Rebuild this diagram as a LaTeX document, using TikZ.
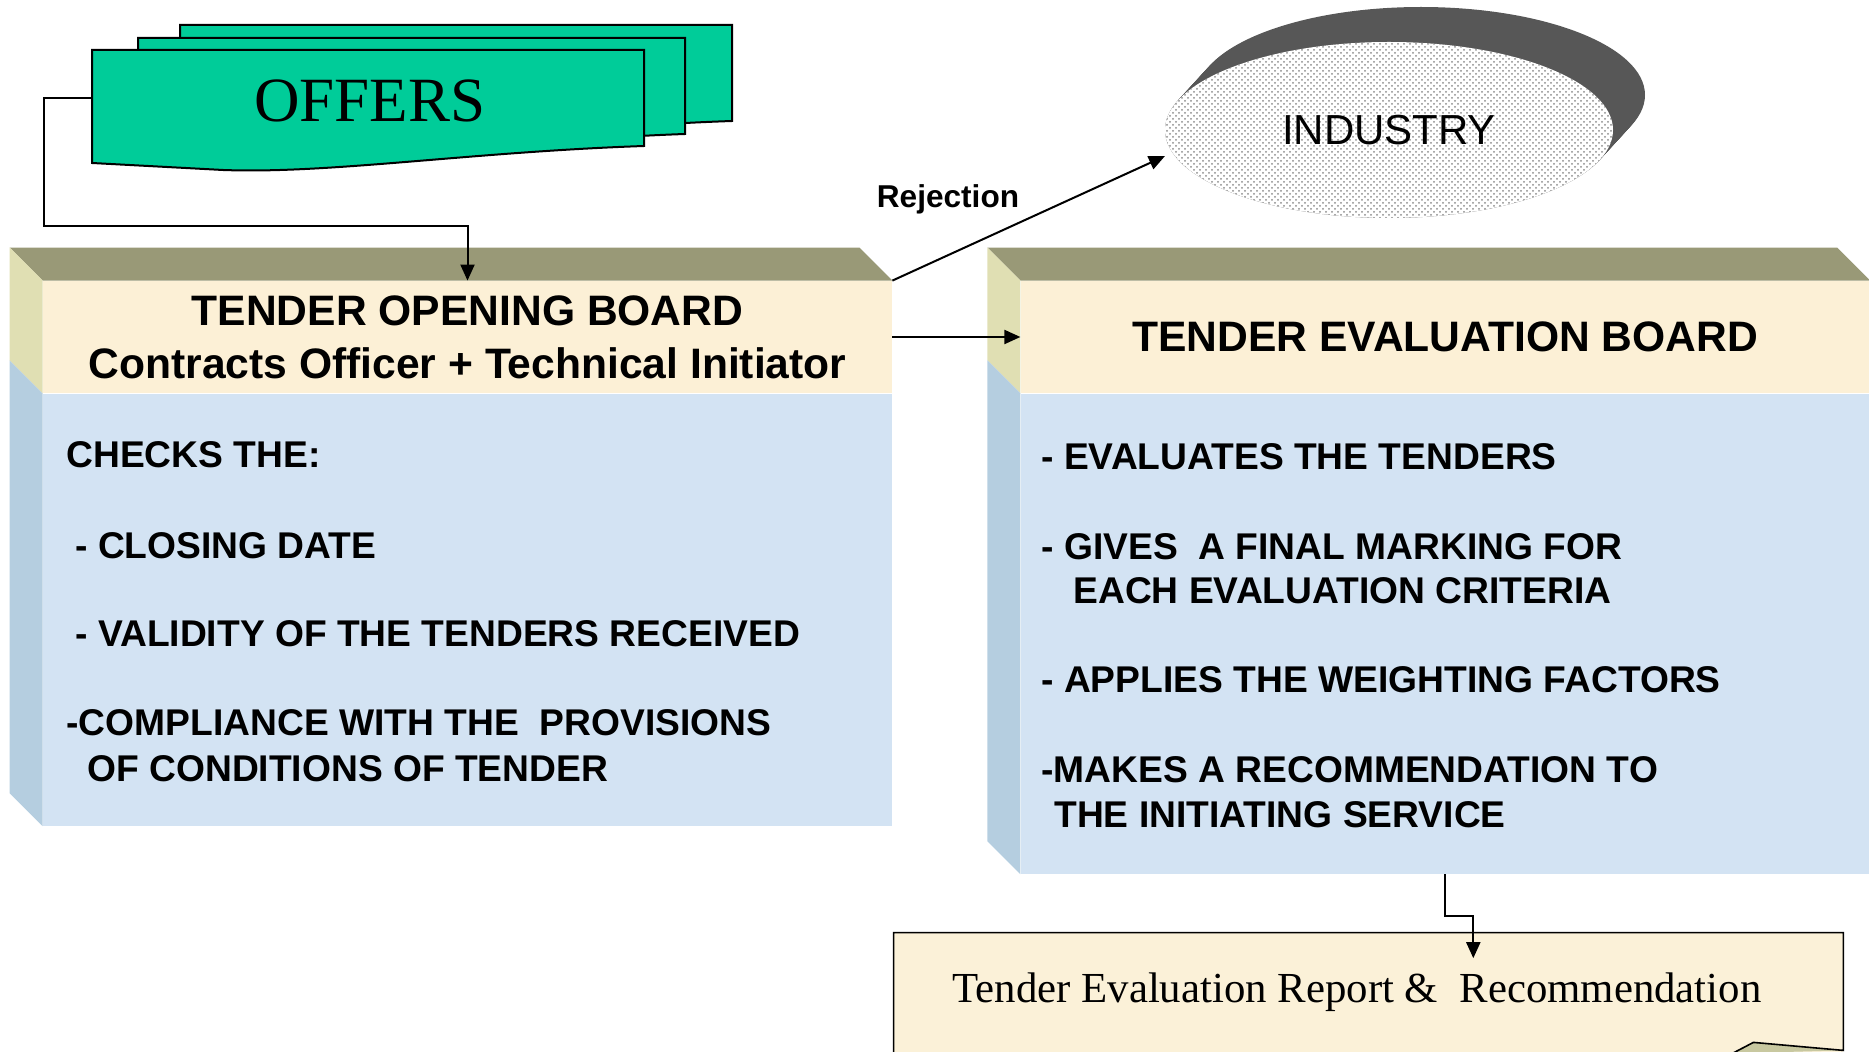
\documentclass[tikz,border=0pt]{standalone}
\usepackage{fontspec}
\setmainfont{Liberation Serif}
\setsansfont{Liberation Sans}
\usepackage{tikz}
\usetikzlibrary{arrows.meta,positioning,shapes.geometric,patterns}
\definecolor{offersGreen}{HTML}{00CC99}
\definecolor{bevelOlive}{HTML}{999977}
\definecolor{sideCream}{HTML}{E0DFB3}
\definecolor{sideBlue}{HTML}{B5CEE0}
\definecolor{headCream}{HTML}{FCF0D6}
\definecolor{bodyBlue}{HTML}{D3E3F3}
\definecolor{reportCream}{HTML}{FBF1D8}
\definecolor{foldOlive}{HTML}{C8C8A0}
\definecolor{industrySide}{HTML}{575757}
\tikzset {
	sheet/.style={draw, line width=1pt, fill=offersGreen},
	boardHead/.style={rectangle, fill=headCream, minimum width=424.5pt, minimum height=56pt, inner sep=0pt, align=center,
					font=\sffamily\bfseries\fontsize{21.3}{26.5}\selectfont},
	boardBody/.style={rectangle, fill=bodyBlue, minimum width=424.5pt, inner sep=0pt},
	bodyLine/.style={anchor=west, inner sep=0pt, text height=13.4pt, text depth=0pt,
					font=\sffamily\bfseries\fontsize{18.6}{22.4}\selectfont},
	conn/.style={draw, line width=1pt, -{Triangle[length=8pt, width=7pt]}},
	industry/.style={ellipse, minimum width=224pt, minimum height=88pt, preaction={fill=white},
					pattern=crosshatch dots, pattern color=black!45, font=\sffamily\fontsize{21}{25}\selectfont},
	rejLabel/.style={font=\sffamily\bfseries\fontsize{15.8}{19}\selectfont},
	report/.style={rectangle, fill=reportCream, minimum width=474.5pt, minimum height=60pt, inner sep=0pt},
	reportText/.style={font=\rmfamily\fontsize{21.4}{25}\selectfont}
}
\begin{document}
\begin{tikzpicture}[x=0.5pt, y=-0.5pt]
\useasboundingbox (0,0) rectangle (1869,1052);
\clip (0,0) rectangle (1869,1052);

\foreach \dx/\dy/\w in {88/-25/552, 46/-12/547, 0/0/552}
	\draw[sheet, shift={(\dx,\dy)}] (92,50) -- ++(\w,0) -- ++(0,96) .. controls (470,152) and (330,174) .. (223,170) -- (92,163) -- cycle;
\node[font=\rmfamily\fontsize{31.5}{36}\selectfont] (offers) at (370,101) {OFFERS};
\coordinate (offers-w) at (92,98);

\coordinate (ind-c) at (1389,130);
\foreach \t in {0,0.04,...,1}
	\fill[industrySide] ([shift={(\t*32,-\t*35)}]ind-c) ellipse [x radius=112pt, y radius=44pt];
\node[industry] (industry) at (ind-c) {INDUSTRY};

\node[boardHead] (tob) at (467.5,337) {TENDER OPENING BOARD\\Contracts Officer + Technical Initiator};
\node[boardBody, minimum height=216pt, below=0pt of tob] (tob-body) {};
\node[boardHead, right=64pt of tob] (teb) {TENDER EVALUATION BOARD};
\node[boardBody, minimum height=240pt, below=0pt of teb] (teb-body) {};

\foreach \b in {tob,teb} {
	\fill[bevelOlive] (\b.north west) -- ++(-33,-33) -- ([shift={(-33,-33)}]\b.north east) -- (\b.north east) -- cycle;
	\fill[sideCream] (\b.north west) -- ++(-33,-33) -- ([shift={(-33,-33)}]\b.south west) -- (\b.south west) -- cycle;
	\fill[sideBlue] (\b-body.north west) -- ++(-33,-33) -- ([shift={(-33,-33)}]\b-body.south west) -- (\b-body.south west) -- cycle;
}

\foreach \x/\y/\txt [count=\i] in {66/454/{CHECKS THE:}, 75/545/{- CLOSING DATE},
		75/633/{- VALIDITY OF THE TENDERS RECEIVED}, 66/722/{-COMPLIANCE WITH THE\ \ PROVISIONS},
		87/768/{OF CONDITIONS OF TENDER}}
	\node[bodyLine] (tob-line\i) at (\x,\y) {\txt};
\foreach \x/\y/\txt [count=\i] in {1041/456/{- EVALUATES THE TENDERS}, 1041/546/{- GIVES\ \ A FINAL MARKING FOR},
		1073/590/{EACH EVALUATION CRITERIA}, 1041/679/{- APPLIES THE WEIGHTING FACTORS},
		1041/769/{-MAKES A RECOMMENDATION TO}, 1054/814/{THE INITIATING SERVICE}}
	\node[bodyLine] (teb-line\i) at (\x,\y) {\txt};

\node[report] (report) at (1368.5,993) {};
\fill[foldOlive] ([yshift=1.5pt]report.south east) -- ++(-90,-8) -- ++(-21,11) -- cycle;
\draw[line width=0.8pt] (report.south west) -- (report.north west) -- (report.north east)
	-- ([yshift=1.5pt]report.south east) -- ++(-90,-8) -- ++(-21,11);
\node[reportText] (report-text) at ([shift={(-11.5,-1)}]report.center) {Tender Evaluation Report \&\ \ Recommendation};

\node[rejLabel] (rejection) at (948,199) {Rejection};

\draw[conn] (offers-w) -- ++(-48,0) |- ([yshift=27.5pt]tob.north) -- (tob.north);
\draw[conn, shorten >=4pt] (tob.north east) -- (industry.186);
\draw[conn] (tob.east) -- (teb.west);
\draw[conn] (teb-body.south) -- ++(0,42) -| ++(28,42);
\end{tikzpicture}
\end{document}
